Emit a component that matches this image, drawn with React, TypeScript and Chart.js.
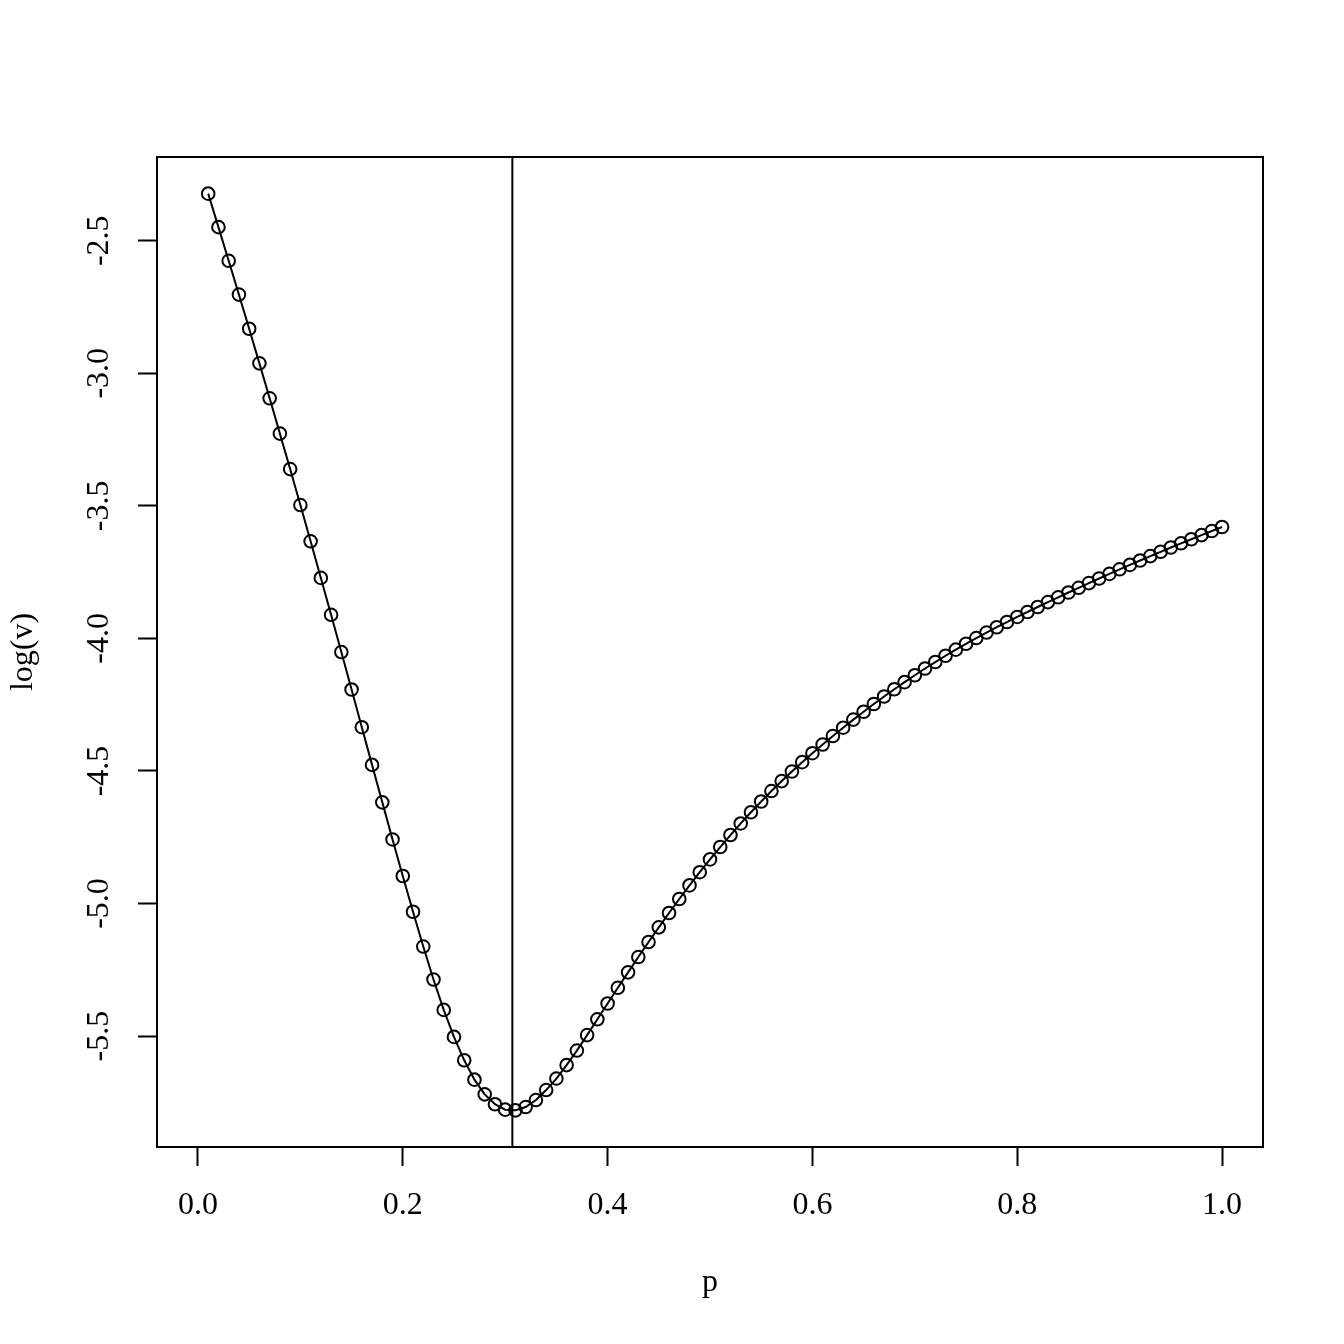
import React, { useEffect, useRef } from "react";
import { Chart, registerables } from "chart.js";

Chart.register(...registerables);

// ---- data -------------------------------------------------------------
const pValues = [
  0.01, 0.02, 0.03, 0.04, 0.05, 0.06, 0.07, 0.08, 0.09, 0.1,
  0.11, 0.12, 0.13, 0.14, 0.15, 0.16, 0.17, 0.18, 0.19, 0.2,
  0.21, 0.22, 0.23, 0.24, 0.25, 0.26, 0.27, 0.28, 0.29, 0.3,
  0.31, 0.32, 0.33, 0.34, 0.35, 0.36, 0.37, 0.38, 0.39, 0.4,
  0.41, 0.42, 0.43, 0.44, 0.45, 0.46, 0.47, 0.48, 0.49, 0.5,
  0.51, 0.52, 0.53, 0.54, 0.55, 0.56, 0.57, 0.58, 0.59, 0.6,
  0.61, 0.62, 0.63, 0.64, 0.65, 0.66, 0.67, 0.68, 0.69, 0.7,
  0.71, 0.72, 0.73, 0.74, 0.75, 0.76, 0.77, 0.78, 0.79, 0.8,
  0.81, 0.82, 0.83, 0.84, 0.85, 0.86, 0.87, 0.88, 0.89, 0.9,
  0.91, 0.92, 0.93, 0.94, 0.95, 0.96, 0.97, 0.98, 0.99, 1.0,
];

const logV = [
  -2.3225, -2.4487, -2.5758, -2.7032, -2.8321, -2.9625, -3.0944, -3.2275, -3.3613, -3.497,
  -3.6338, -3.7718, -3.9109, -4.0514, -4.1928, -4.3349, -4.477, -4.6183, -4.7582, -4.8961,
  -5.0311, -5.1623, -5.2866, -5.4012, -5.503, -5.5912, -5.6643, -5.7197, -5.757, -5.7774,
  -5.78, -5.7676, -5.7412, -5.7035, -5.6602, -5.6093, -5.5546, -5.4962, -5.4366, -5.3771,
  -5.3179, -5.2595, -5.2018, -5.1453, -5.0899, -5.0356, -4.9828, -4.9316, -4.8818, -4.8336,
  -4.7868, -4.7416, -4.6979, -4.6557, -4.615, -4.5757, -4.5381, -4.5019, -4.4668, -4.4329,
  -4.4001, -4.3681, -4.3368, -4.3063, -4.2765, -4.2474, -4.2192, -4.1917, -4.1649, -4.1389,
  -4.1136, -4.0891, -4.0654, -4.0424, -4.0202, -3.9987, -3.9779, -3.9578, -3.9382, -3.919,
  -3.9003, -3.8815, -3.863, -3.8449, -3.8268, -3.8091, -3.7914, -3.774, -3.7567, -3.7393,
  -3.7228, -3.7062, -3.6896, -3.6734, -3.6572, -3.6413, -3.6259, -3.6104, -3.595, -3.5799,
];

const xTickValues = [0, 0.2, 0.4, 0.6, 0.8, 1.0];
const yTickValues = [-5.5, -5.0, -4.5, -4.0, -3.5, -3.0, -2.5];
const xLimits = [0, 1];
const vLineP = 0.307;
const xTitle = "p";
const yTitle = "log(v)";

// ---- helpers ----------------------------------------------------------
const FONT = "'Liberation Serif', 'DejaVu Serif', serif";
const expand = (lo: number, hi: number) => {
  const d = (hi - lo) * 0.04;
  return [lo - d, hi + d];
};

export default function App() {
  const canvasRef = useRef<HTMLCanvasElement | null>(null);

  useEffect(() => {
    const canvas = canvasRef.current;
    if (!canvas) return;

    const [xMin, xMax] = expand(xLimits[0], xLimits[1]);
    const [yMin, yMax] = expand(Math.min(...logV), Math.max(...logV));

    const framePlugin = {
      id: "rframe",
      afterDraw(chart: any) {
        const { ctx, chartArea: a } = chart;
        ctx.save();
        ctx.strokeStyle = "#000";
        ctx.lineWidth = 2;
        ctx.strokeRect(a.left, a.top, a.right - a.left, a.bottom - a.top);
        ctx.restore();
      },
    };

    const tickFont = { family: FONT, size: 32, lineHeight: 1.2 };

    const chart = new Chart(canvas, {
      type: "line",
      data: {
        datasets: [
          {
            data: pValues.map((p, i) => ({ x: p, y: logV[i] })),
            borderColor: "#000",
            borderWidth: 2,
            pointRadius: 6.3,
            pointBorderWidth: 2,
            pointBorderColor: "#000",
            pointBackgroundColor: "rgba(0,0,0,0)",
            tension: 0,
            fill: false,
          },
          {
            data: [
              { x: vLineP, y: yMin },
              { x: vLineP, y: yMax },
            ],
            borderColor: "#000",
            borderWidth: 2,
            pointRadius: 0,
            fill: false,
          },
        ],
      },
      options: {
        responsive: false,
        animation: false,
        devicePixelRatio: 1,
        layout: { padding: { top: 157, right: 81, left: 0, bottom: 0 } },
        plugins: {
          legend: { display: false },
          tooltip: { enabled: false },
        },
        scales: {
          x: {
            type: "linear",
            min: xMin,
            max: xMax,
            afterBuildTicks: (scale: any) => {
              scale.ticks = xTickValues.map((value) => ({ value }));
            },
            afterFit: (scale: any) => {
              scale.height = 197;
            },
            grid: {
              display: true,
              drawOnChartArea: false,
              drawTicks: true,
              tickLength: 19,
              tickWidth: 2,
              tickColor: "#000",
            },
            border: { display: false },
            ticks: {
              autoSkip: false,
              minRotation: 0,
              maxRotation: 0,
              padding: 20,
              color: "#000",
              font: tickFont,
              callback: (v: any) => Number(v).toFixed(1),
            },
            title: {
              display: true,
              text: xTitle,
              color: "#000",
              font: tickFont,
              padding: { top: 0, bottom: 42.7 },
            },
          },
          y: {
            type: "linear",
            min: yMin,
            max: yMax,
            afterBuildTicks: (scale: any) => {
              scale.ticks = yTickValues.map((value) => ({ value }));
            },
            afterFit: (scale: any) => {
              scale.width = 157;
            },
            grid: {
              display: true,
              drawOnChartArea: false,
              drawTicks: true,
              tickLength: 19,
              tickWidth: 2,
              tickColor: "#000",
            },
            border: { display: false },
            ticks: {
              autoSkip: false,
              minRotation: 90,
              maxRotation: 90,
              crossAlign: "center",
              padding: 12.6,
              color: "#000",
              font: tickFont,
              callback: (v: any) => Number(v).toFixed(1),
            },
            title: {
              display: true,
              text: yTitle,
              color: "#000",
              font: tickFont,
              padding: { top: 4, bottom: 0 },
            },
          },
        },
      },
      plugins: [framePlugin],
    } as any);

    return () => chart.destroy();
  }, []);

  return (
    <div style={{ position: "absolute", left: 0, top: 0, width: 1344, height: 1344, background: "#fff" }}>
      <canvas ref={canvasRef} width={1344} height={1344} style={{ display: "block" }} />
    </div>
  );
}
